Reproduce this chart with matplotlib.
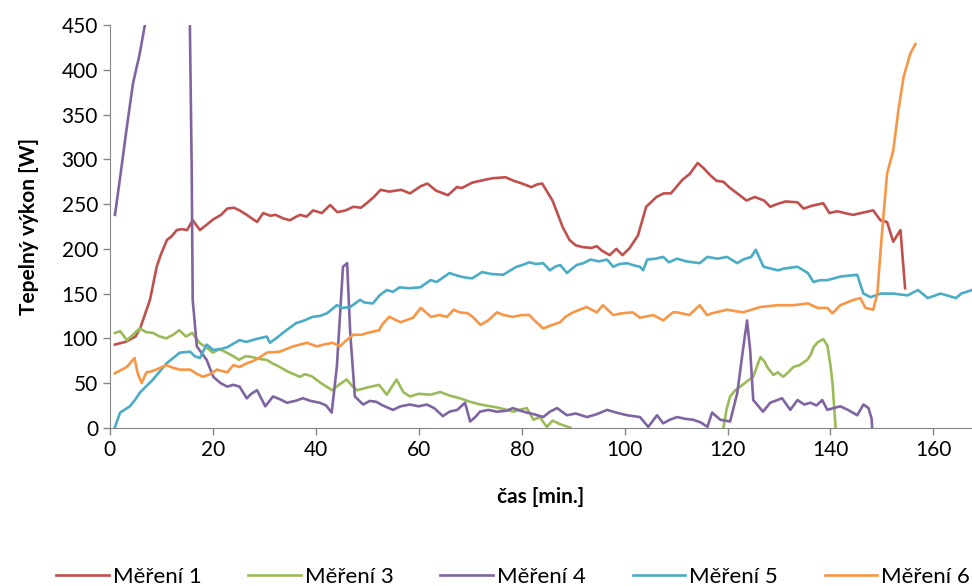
import matplotlib
matplotlib.use("Agg")
import matplotlib.pyplot as plt
import numpy as np

# (time [min], power [W])
mereni_1 = [(1, 93), (3, 96), (5, 102), (6, 113), (7.8, 143), (9.1, 180), (10, 195), (11.1, 210), (12, 214),
            (13, 221), (14, 222), (15, 221), (16.1, 232), (17.5, 221), (18.6, 226), (20.1, 233), (21.6, 238),
            (22.8, 245), (24.1, 246), (25.2, 243), (26.6, 238), (28.6, 230), (29.8, 240), (31.2, 237),
            (32.2, 238), (33.7, 234), (35, 232), (36.2, 236), (37, 238), (38.2, 236), (39.5, 243), (41.2, 240),
            (42.8, 249), (44.2, 241), (45.8, 243), (47.3, 247), (48.8, 246), (50.1, 252), (51.3, 258),
            (52.6, 266), (54.3, 264), (56.6, 266), (58.3, 262), (60.4, 270), (61.7, 273), (63.4, 265),
            (65.7, 260), (67.4, 269), (68.4, 268), (70.4, 274), (72.7, 277), (74.4, 279), (76.9, 280),
            (78.5, 276), (80.1, 273), (81.9, 269), (83, 272), (84, 273), (86, 254), (88, 224), (89.3, 210),
            (90.5, 204), (91.8, 202), (93.6, 201), (94.6, 203), (95.6, 198), (97.1, 193), (98.4, 200),
            (99.6, 193), (101, 201), (102.6, 215), (104.2, 247), (106.2, 258), (107.6, 262), (109, 262),
            (111.2, 277), (112.7, 284), (114.2, 296), (115.4, 290), (116.7, 282), (117.9, 276), (119.2, 275),
            (120.5, 268), (121.9, 262), (123.7, 254), (125.3, 258), (127.1, 254), (128.3, 247), (129.6, 250),
            (131.3, 253), (133.6, 252), (134.8, 245), (136.3, 248), (138.6, 251), (139.8, 240), (141.3, 242),
            (142.8, 240), (144.4, 238), (146.7, 241), (148.3, 243), (149.7, 232), (151, 230), (152.2, 208),
            (153.6, 221), (154.5, 156)]

mereni_3 = [(1, 106), (2, 108), (3.3, 98), (4.5, 104), (5.8, 111), (7, 107), (8.4, 106), (9.7, 102), (11, 100),
            (12.3, 104), (13.5, 109), (14.8, 102), (16, 106), (17.4, 95), (18.7, 90), (20, 84), (21.3, 88),
            (22.7, 84), (24, 80), (25.1, 76), (26.4, 80), (27.7, 79), (29, 77), (30.4, 76), (31.6, 72),
            (33, 68), (34.5, 63), (36.9, 57), (38, 60), (39.4, 57), (41, 50), (43.2, 42), (44.5, 48), (46, 54),
            (47.2, 46), (48, 42), (50, 45), (52.3, 48), (53.8, 37), (55.7, 54), (57, 40), (58.3, 35), (60, 38),
            (62.3, 37), (64.2, 40), (66, 36), (68, 33), (70, 29), (72, 26), (74, 24), (75.8, 22), (78.4, 18),
            (79.5, 20), (81, 22), (82.3, 9), (83.5, 12), (84.9, 1), (86, 8), (87.5, 4), (89.5, 0),
            (np.nan, np.nan),
            (119.2, 0), (119.8, 20), (120.5, 35), (121.5, 42), (122.5, 46), (123.8, 52), (125, 57), (125.8, 70),
            (126.4, 79), (127.2, 74), (127.7, 68), (128.9, 59), (129.8, 62), (130.8, 57), (131.8, 62),
            (132.8, 68), (134, 70), (135.5, 76), (136.2, 82), (136.7, 90), (137.6, 96), (138.6, 99),
            (139.4, 92), (140, 70), (140.4, 50), (141, 0)]

mereni_4 = [(1, 238), (2, 280), (3.3, 336), (4.5, 385), (5.8, 418), (6.8, 450), (8, 490), (10, 540), (12, 560),
            (14, 540), (15.2, 480), (15.55, 450), (15.9, 291), (16.1, 143), (16.9, 91), (18.8, 76), (20.1, 57),
            (21.5, 50), (22.8, 46), (24, 48), (25.2, 46), (26.6, 33), (27.5, 38), (28.6, 42), (30.2, 24),
            (31.7, 35), (33, 32), (34.4, 28), (36, 30), (37.5, 33), (39, 30), (40.8, 28), (42, 25), (43.1, 17),
            (44.1, 68), (45.3, 180), (46.1, 184), (46.7, 106), (47.6, 35), (49.2, 26), (50.5, 30), (51.8, 29),
            (53, 25), (55, 20), (56.5, 24), (58.3, 26), (60, 24), (61.6, 26), (63, 22), (64.7, 13), (66, 18),
            (67.5, 20), (69, 28), (70, 7), (71, 12), (71.9, 18), (73.5, 20), (75.2, 18), (77, 19), (78.3, 22),
            (79.8, 19), (81, 17), (82.5, 15), (84.2, 12), (85.5, 18), (86.9, 22), (88.8, 14), (90.5, 16),
            (92.7, 12), (94.5, 15), (96.6, 20), (98.4, 17), (100.5, 14), (103, 12), (104.6, 1), (106.3, 14),
            (107.5, 5), (108.8, 9), (110.2, 12), (111.8, 10), (113.3, 9), (114.8, 6), (116.1, 1), (117, 17),
            (118.6, 9), (120.5, 7), (121.9, 39), (123, 87), (123.8, 120), (124.4, 87), (125, 31), (126.9, 18),
            (128.3, 28), (130.6, 33), (132.2, 20), (133.6, 31), (134.9, 26), (136.1, 28), (137.3, 25),
            (138.4, 31), (139.4, 20), (140.6, 22), (141.9, 24), (143.4, 20), (145.2, 14), (146.4, 26),
            (147.4, 22), (148, 10), (148.1, 0)]

mereni_5 = [(1, 1), (2, 17), (3.9, 24), (5, 32), (5.8, 39), (7, 46), (8.4, 54), (9.7, 63), (11, 72), (12.3, 78),
            (13.6, 84), (15.6, 85), (16.5, 80), (17.5, 78), (18.8, 93), (20.1, 87), (21.5, 88), (22.8, 90),
            (24, 94), (25.2, 98), (26.5, 96), (27.7, 98), (29, 100), (30.5, 102), (31.1, 95), (32.3, 100),
            (33.6, 106), (35, 112), (36.2, 117), (37.8, 120), (39.4, 124), (40.8, 125), (42.2, 128),
            (44.1, 137), (45.2, 134), (46.7, 135), (48.6, 143), (49.5, 140), (51.1, 139), (52.4, 148),
            (53.8, 154), (55, 152), (56.3, 157), (58, 156), (60.3, 157), (62.3, 165), (63.5, 163), (66, 173),
            (67.5, 170), (69, 168), (70.4, 167), (72.3, 174), (74, 172), (76.4, 171), (79, 180), (80.2, 182),
            (81.5, 185), (82.8, 183), (84.2, 184), (85.5, 176), (86.5, 180), (87.5, 182), (88.8, 173),
            (90.7, 182), (92, 184), (93.4, 188), (95, 186), (96.6, 188), (97.8, 180), (99, 183), (100.5, 184),
            (101.5, 182), (103, 180), (103.6, 176), (104.4, 188), (106, 189), (107.5, 191), (108.6, 185),
            (110.2, 189), (112, 186), (114.6, 184), (116.1, 191), (118, 189), (119.9, 191), (121.9, 184),
            (123, 188), (124.6, 191), (125.5, 199), (127, 180), (129.8, 176), (131, 178), (133.6, 180),
            (135.6, 173), (136.7, 163), (138, 165), (139.4, 165), (141.9, 169), (143.5, 170), (145.2, 171),
            (146.4, 150), (147.8, 146), (149.7, 150), (152.2, 150), (155, 148), (157, 154), (158.9, 145),
            (161.4, 150), (164.4, 145), (165.4, 150), (167.5, 154)]

mereni_6 = [(1, 61), (2, 64), (3.3, 68), (4.8, 78), (5.4, 61), (6.2, 50), (7.1, 62), (8, 63), (9, 65), (11, 70),
            (12.3, 67), (13.6, 65), (15.6, 65), (17, 60), (18.1, 57), (19.5, 60), (20.8, 65), (22.8, 62),
            (24, 70), (25.2, 68), (26.6, 72), (28, 75), (29.2, 79), (30.5, 84), (33, 85), (35.6, 91),
            (38.3, 95), (40.2, 91), (41.5, 93), (43.3, 95), (44.7, 91), (46, 98), (47.3, 104), (49, 104),
            (50, 106), (52.3, 109), (53, 116), (54.3, 124), (55.7, 120), (56.5, 118), (58.9, 123), (60.4, 134),
            (62.4, 124), (64, 126), (65.5, 124), (66.8, 132), (68, 129), (69.5, 128), (70.5, 124), (72, 115),
            (73.5, 120), (75.2, 129), (76.5, 126), (78.3, 124), (80, 126), (81.5, 126), (82.5, 120),
            (84.2, 111), (85.5, 114), (87.5, 118), (88.5, 124), (90, 129), (92.6, 135), (94.6, 129),
            (95.8, 137), (97.8, 126), (99.5, 128), (101.6, 129), (103, 123), (105.6, 126), (107.5, 120),
            (109.4, 129), (110.2, 129), (112.6, 126), (114.6, 137), (116, 126), (117, 128), (119.9, 132),
            (123, 129), (126.4, 135), (129.7, 137), (132.8, 137), (135.6, 139), (137.5, 134), (139.4, 134),
            (140.4, 128), (141.9, 137), (144.5, 143), (145.8, 145), (146.8, 134), (148.3, 132), (149.1, 150),
            (150, 217), (151, 284), (152.2, 310), (153.2, 355), (154.2, 392), (155.5, 418), (156.5, 429)]

labels = ["Měření 1", "Měření 3", "Měření 4", "Měření 5", "Měření 6"]
colors = ["#C0504D", "#9BBB59", "#8064A2", "#4BACC6", "#F79646"]
series = [mereni_1, mereni_3, mereni_4, mereni_5, mereni_6]

plt.rcParams["font.family"] = ["Lato", "DejaVu Sans"]

fig = plt.figure(figsize=(9.72, 5.86), dpi=100)
ax = fig.add_axes([0.113, 0.270, 0.887, 0.687])

for data, lab, col in zip(series, labels, colors):
    t, w = zip(*data)
    ax.plot(t, w, color=col, lw=1.9, label=lab, solid_joinstyle="round")

ax.set_xlim(0, 167.5)
ax.set_ylim(0, 450)
ax.set_xticks(range(0, 161, 20))
ax.set_yticks(range(0, 451, 50))
ax.tick_params(labelsize=15, length=5, color="#868686", width=1)
for side in ["top", "right"]:
    ax.spines[side].set_visible(False)
for side in ["left", "bottom"]:
    ax.spines[side].set_color("#868686")

ax.set_xlabel("čas [min.]", fontsize=15, fontweight="bold", labelpad=20)
ax.set_ylabel("Tepelný výkon [W]", fontsize=15, fontweight="bold", labelpad=16)

fig.legend(loc="lower center", bbox_to_anchor=(0.528, -0.035), ncol=5, frameon=False,
           fontsize=16, handlelength=2.35, columnspacing=2.1, handletextpad=0.2)

fig.savefig("out.png", dpi=100)
